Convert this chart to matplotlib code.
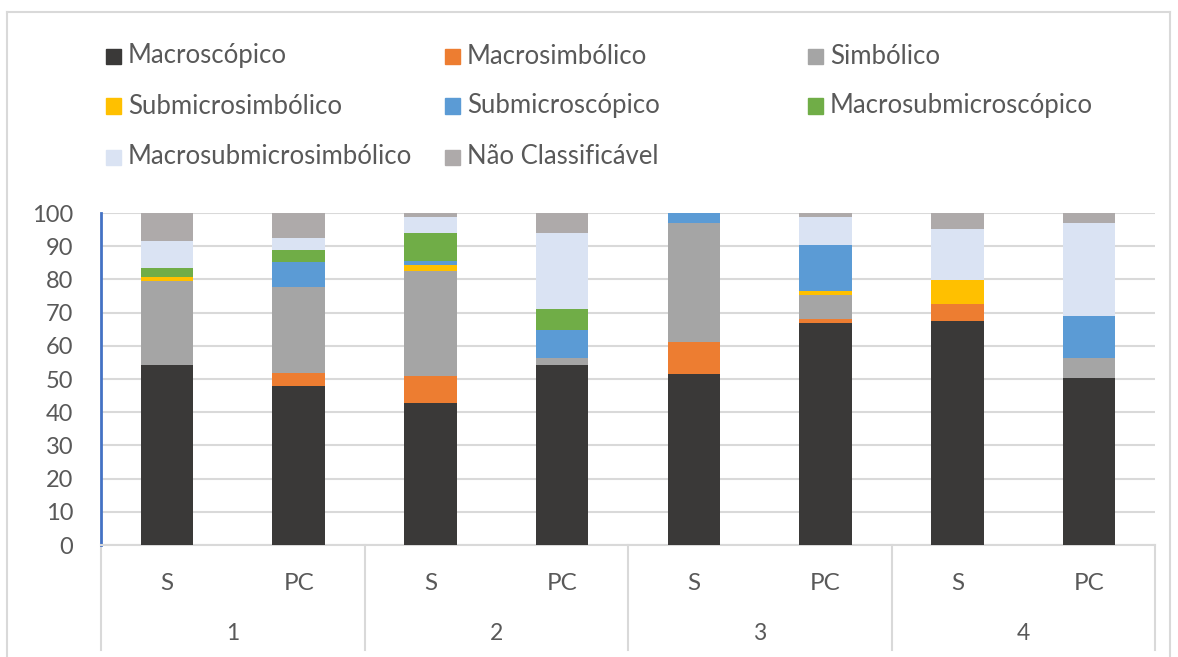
import matplotlib
matplotlib.use("Agg")
import matplotlib.pyplot as plt
import numpy as np
from matplotlib.lines import Line2D
from matplotlib.patches import Rectangle

plt.rcParams["font.family"] = ["Lato", "DejaVu Sans"]

GROUPS = ["1", "2", "3", "4"]
SUBLABELS = ["S", "PC", "S", "PC", "S", "PC", "S", "PC"]

SERIES_NAMES = [
    "Macroscópico",
    "Macrosimbólico",
    "Simbólico",
    "Submicrosimbólico",
    "Submicroscópico",
    "Macrosubmicroscópico",
    "Macrosubmicrosimbólico",
    "Não Classificável",
]
COLORS = ["#3a3938", "#ed7d31", "#a5a5a5", "#ffc000",
          "#5b9bd5", "#70ad47", "#dae3f3", "#aeaaaa"]

# percentages per bar: 1-S, 1-PC, 2-S, 2-PC, 3-S, 3-PC, 4-S, 4-PC
macroscopico = [54.2, 48.0, 42.8, 54.2, 51.5, 66.8, 67.6, 50.2]
macrosimbolico = [0.0, 3.9, 8.2, 0.0, 9.5, 1.3, 4.9, 0.0]
simbolico = [25.3, 25.9, 31.5, 2.1, 35.9, 7.3, 0.0, 6.1]
submicrosimbolico = [1.3, 0.0, 1.7, 0.0, 0.0, 1.0, 7.3, 0.0]
submicroscopico = [0.0, 7.3, 1.3, 8.4, 3.1, 14.0, 0.0, 12.7]
macrosubmicroscopico = [2.5, 3.9, 8.4, 6.5, 0.0, 0.0, 0.0, 0.0]
macrosubmicrosimbolico = [8.4, 3.6, 4.8, 22.7, 0.0, 8.3, 15.4, 27.9]
nao_classificavel = [8.3, 7.4, 1.3, 6.1, 0.0, 1.3, 4.8, 3.1]

series = [macroscopico, macrosimbolico, simbolico, submicrosimbolico,
          submicroscopico, macrosubmicroscopico, macrosubmicrosimbolico,
          nao_classificavel]

W, H = 1178, 657
fig = plt.figure(figsize=(W / 100, H / 100), dpi=100)
ax = fig.add_axes([101 / W, 1 - 545 / H, (1155 - 101) / W, (545 - 213) / H])

x = np.arange(len(SUBLABELS))
bottom = np.zeros(len(SUBLABELS))
for values, color in zip(series, COLORS):
    vals = np.asarray(values)
    ax.bar(x, vals, width=0.4, bottom=bottom, color=color, zorder=3)
    bottom += vals

ax.set_xlim(-0.5, len(SUBLABELS) - 0.5)
ax.set_ylim(0, 100)
ax.set_yticks(np.arange(0, 101, 10))
ax.grid(axis="y", color="#d9d9d9", linewidth=1.5, zorder=0)
ax.tick_params(axis="y", length=0, pad=20, labelsize=17, labelcolor="#595959")
ax.tick_params(axis="x", length=0, pad=20, labelsize=17.5, labelcolor="#595959")
ax.set_xticks(x)
ax.set_xticklabels(SUBLABELS)

for side in ["top", "right"]:
    ax.spines[side].set_visible(False)
ax.spines["left"].set_color("#4472c4")
ax.spines["left"].set_linewidth(2)
ax.spines["bottom"].set_color("#d9d9d9")
ax.spines["bottom"].set_linewidth(1.5)

# multi-level category axis: group separators and group names
trans = ax.get_xaxis_transform()
sep_bottom = -(650 - 545) / (545 - 213)
for b in np.arange(-0.5, len(SUBLABELS), 2):
    ax.add_line(Line2D([b, b], [0, sep_bottom], transform=trans,
                       color="#d9d9d9", linewidth=1.5, clip_on=False))
for i, g in enumerate(GROUPS):
    ax.text(2 * i + 0.5, -(634 - 545) / (545 - 213), g, transform=trans,
            ha="center", va="center", fontsize=16.5, color="#595959")

# legend laid out as three columns
col_x = [106, 445, 808]
row_y = [56, 106, 157]
for k, (name, color) in enumerate(zip(SERIES_NAMES, COLORS)):
    r, c = divmod(k, 3)
    px, py = col_x[c], row_y[r]
    fig.add_artist(Rectangle((px / W, 1 - (py + 7.5) / H), 15 / W, 15 / H,
                             transform=fig.transFigure, color=color))
    fig.text((px + 22) / W, 1 - py / H, name, ha="left", va="center",
             fontsize=18.5, color="#595959")

# chart frame
for xs, ys in [([7, 7], [12, H]), ([7, 1170], [12, 12]), ([1170, 1170], [12, H])]:
    fig.add_artist(Line2D([v / W for v in xs], [1 - v / H for v in ys],
                          transform=fig.transFigure, color="#d9d9d9", linewidth=1.5))

fig.savefig("out.png", dpi=100, facecolor="white")
